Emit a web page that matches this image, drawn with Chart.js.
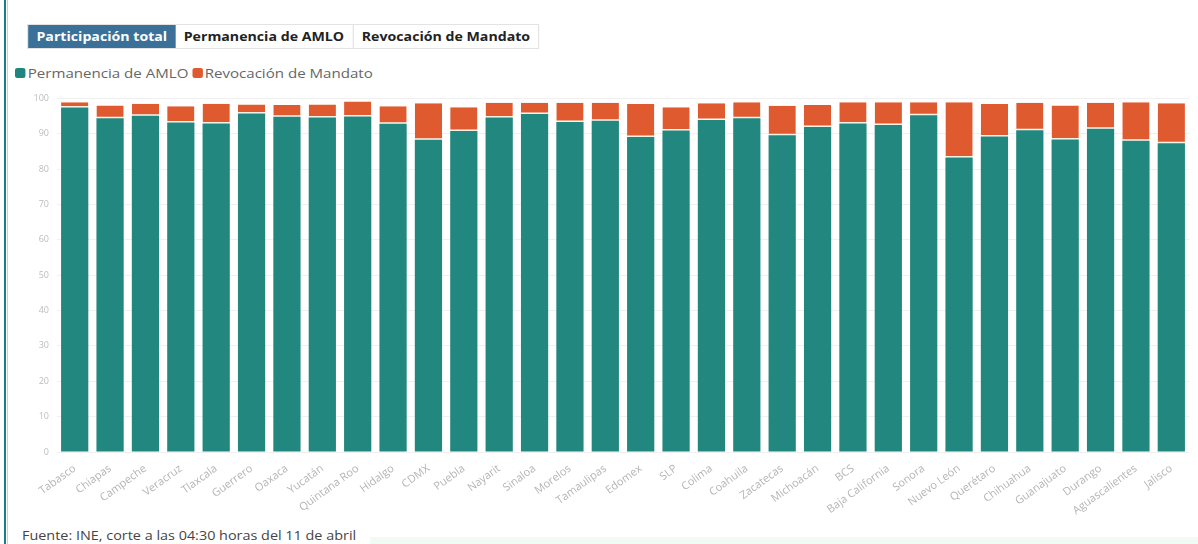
<!DOCTYPE html>
<html>
<head>
<meta charset="utf-8">
<script src="https://cdn.jsdelivr.net/npm/chart.js@4"></script>
<style>
  body { margin: 0; background: #fff; font-family: "Open Sans", sans-serif; }
  #page { position: relative; width: 1198px; height: 544px; overflow: hidden; }
  #bar-left { position: absolute; left: 4px; top: 0; width: 2px; height: 544px; background: #1d7d86; }
  #bar-left2 { position: absolute; left: 7px; top: 0; width: 1px; height: 544px; background: #a8dfe0; }
  #tabs { position: absolute; left: 27px; top: 24px; height: 23px; display: flex; border: 1px solid #e3e3e3;
          transform: scaleX(1.18); transform-origin: left top; }
  .tab { font-size: 12px; font-weight: 700; color: #222; padding: 0 7px; line-height: 23px; border-left: 1px solid #e3e3e3; }
  .tab.active { background: #3b7199; color: #fff; border-left: none; }
  #legend { position: absolute; left: 15px; top: 64px; font-size: 13px; color: #666; display: flex; align-items: center;
            transform: scaleX(1.16); transform-origin: left top; }
  .sw { display: inline-block; width: 9px; height: 10px; border-radius: 2px; margin-right: 2px; }
  #chart-box { position: absolute; left: 15px; top: 85px; width: 1176px; height: 430px; }
  #note { position: absolute; left: 22px; top: 527px; font-size: 12px; color: #444;
          transform: scaleX(1.2); transform-origin: left top; }
  #strip { position: absolute; left: 370px; top: 537px; width: 828px; height: 7px; background: #f2fbf3; }
</style>
</head>
<body>
<div id="page">
  <div id="bar-left"></div>
  <div id="bar-left2"></div>
  <div id="tabs">
    <div class="tab active">Participación total</div>
    <div class="tab" style="border-left:none">Permanencia de AMLO</div>
    <div class="tab">Revocación de Mandato</div>
  </div>
  <div id="legend">
    <span class="sw" style="background:#21857f"></span>Permanencia de AMLO
    <span class="sw" style="background:#e05a30;margin-left:3px"></span>Revocación de Mandato
  </div>
  <div id="chart-box"><canvas id="votos"></canvas></div>
  <div id="strip"></div>
  <div id="note">Fuente: INE, corte a las 04:30 horas del 11 de abril</div>
</div>
<script>
    // datos por estado (porcentaje de votos)
    const estados = ['Tabasco', 'Chiapas', 'Campeche', 'Veracruz', 'Tlaxcala', 'Guerrero', 'Oaxaca', 'Yucatán',
        'Quintana Roo', 'Hidalgo', 'CDMX', 'Puebla', 'Nayarit', 'Sinaloa', 'Morelos', 'Tamaulipas', 'Edomex',
        'SLP', 'Colima', 'Coahuila', 'Zacatecas', 'Michoacán', 'BCS', 'Baja California', 'Sonora', 'Nuevo León',
        'Querétaro', 'Chihuahua', 'Guanajuato', 'Durango', 'Aguascalientes', 'Jalisco'];
    const permanencia = [97.4, 94.4, 95.1, 93.2, 92.9, 95.7, 94.8, 94.6, 94.9, 92.8, 88.3, 90.8, 94.6, 95.6, 93.3, 93.7,
        89.1, 90.9, 93.9, 94.4, 89.6, 91.9, 92.9, 92.5, 95.2, 83.3, 89.2, 91.0, 88.4, 91.4, 88.0, 87.3];
    const revocacion = [1.5, 3.6, 3.4, 4.6, 5.6, 2.6, 3.3, 3.7, 4.2, 5.0, 10.3, 6.7, 4.2, 3.2, 5.5, 5.1,
        9.3, 6.6, 4.7, 4.5, 8.3, 6.2, 6.0, 6.4, 3.7, 15.6, 9.2, 7.8, 9.6, 7.4, 10.9, 11.3];
    const yTicks = [0, 10, 20, 30, 40, 50, 60, 70, 80, 90, 100];

    const ctx = document.getElementById('votos').getContext('2d');
    const chart = new Chart(ctx, {
        type: 'bar',
        data: {
            labels: estados,
            datasets: [{
                label: 'Permanencia de AMLO',
                data: permanencia,
                backgroundColor: '#22877f',
                borderWidth: 0,
                categoryPercentage: 1,
                barPercentage: 0.77
            }, {
                label: 'Revocación de Mandato',
                data: revocacion,
                backgroundColor: '#e05a30',
                borderColor: '#fbf3e6',
                borderWidth: { top: 0, left: 0, right: 0, bottom: 1.5 },
                borderSkipped: false,
                categoryPercentage: 1,
                barPercentage: 0.77
            }]
        },
        options: {
            responsive: true,
            maintainAspectRatio: false,
            animation: false,
            layout: { padding: { top: 12, right: 2, left: 0, bottom: 0 } },
            plugins: {
                legend: { display: false },
                tooltip: { enabled: false }
            },
            scales: {
                x: {
                    stacked: true,
                    grid: { display: false },
                    border: { display: false },
                    ticks: {
                        color: '#b5b5b5',
                        font: { family: "'Open Sans', sans-serif", size: 11 },
                        minRotation: 36,
                        maxRotation: 36,
                        autoSkip: false,
                        padding: 2
                    },
                    afterFit: (scale) => { scale.height = 63; }
                },
                y: {
                    stacked: true,
                    min: 0,
                    max: 100,
                    grid: { color: '#f0f0f0', drawTicks: false },
                    border: { display: false },
                    afterBuildTicks: (scale) => { scale.ticks = yTicks.map(v => ({ value: v })); },
                    ticks: {
                        color: '#bdbdbd',
                        font: { family: "'Open Sans', sans-serif", size: 9 },
                        padding: 8
                    },
                    afterFit: (scale) => { scale.width = 42; }
                }
            }
        }
    });
</script>
</body>
</html>
